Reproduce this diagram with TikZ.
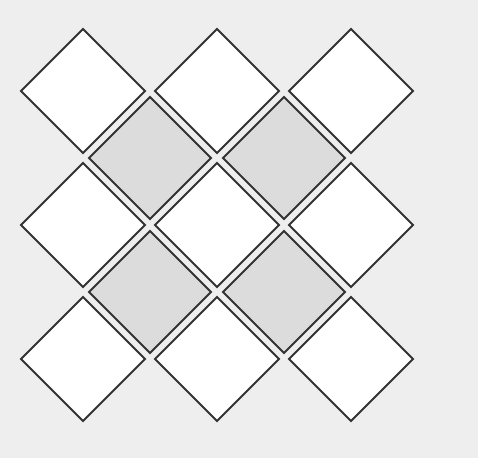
\documentclass[tikz,border=0pt]{standalone}
\usetikzlibrary{shapes.geometric,positioning,calc}
\definecolor{bgpaper}{HTML}{EEEEEE}
\definecolor{tilegray}{HTML}{DCDCDC}
\definecolor{tileline}{HTML}{333333}

\begin{document}
\begin{tikzpicture}[
    x=1pt, y=-1pt,
    tile/.style={diamond, draw=tileline, line width=1.9pt, fill=white, inner sep=0pt, outer sep=0pt, minimum width=124pt, minimum height=124pt},
    darktile/.style={tile, fill=tilegray, minimum width=122pt, minimum height=122pt},
    node distance = 10pt
]

% Background
\fill[bgpaper] (0,0) rectangle (478,458);
\useasboundingbox (0,0) rectangle (478,458);

% White tiles
\node[tile] (w11) at (83,91) {};
\node[tile, right=of w11] (w12) {};
\node[tile, right=of w12] (w13) {};
\node[tile, below=of w11] (w21) {};
\node[tile, right=of w21] (w22) {};
\node[tile, right=of w22] (w23) {};
\node[tile, below=of w21] (w31) {};
\node[tile, right=of w31] (w32) {};
\node[tile, right=of w32] (w33) {};

% Grey tiles in the gaps
\node[darktile] (g11) at ($(w11)!0.5!(w22)$) {};
\node[darktile] (g12) at ($(w12)!0.5!(w23)$) {};
\node[darktile] (g21) at ($(w21)!0.5!(w32)$) {};
\node[darktile] (g22) at ($(w22)!0.5!(w33)$) {};

\end{tikzpicture}
\end{document}
